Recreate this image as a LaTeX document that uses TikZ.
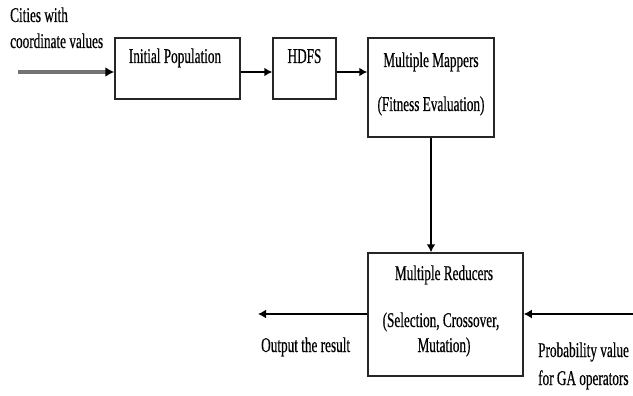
\documentclass[tikz,border=0pt]{standalone}
\usepackage{fontspec}
\setmainfont{Liberation Serif}[FakeStretch=0.63,FakeBold=0.4]
\usetikzlibrary{arrows.meta}
\begin{document}
\begin{tikzpicture}[x=1pt,y=-1pt,
  box/.style={draw=black!85,line width=1.5pt,inner sep=0pt},
  txt/.style={inner sep=0pt,font=\fontsize{21}{26}\selectfont},
  arr/.style={line width=1.6pt,-{Latex[length=8pt,width=9pt]}},
  grayarr/.style={draw=black!55,line width=3.4pt,-{Latex[length=9pt,width=10pt,color=black]}}]
\useasboundingbox[fill=white] (0,0) rectangle (633,396);
% boxes
\node[box,minimum width=125pt,minimum height=61pt] (ip) at (177.5,68.5) {};
\node[box,minimum width=63pt,minimum height=61pt] (hdfs) at (304.5,68.5) {};
\node[box,minimum width=126pt,minimum height=99pt] (map) at (431,87.5) {};
\node[box,minimum width=155pt,minimum height=123pt] (red) at (445.5,314.5) {};
% texts
\node[txt,anchor=base west] (t1) at (10,22) {Cities with};
\node[txt,anchor=base west] (t2) at (10,48) {coordinate values};
\node[txt,anchor=base] (tip) at (175,63) {Initial Population};
\node[txt,anchor=base] (thd) at (304.5,63) {HDFS};
\node[txt,anchor=base] (tm1) at (431,67) {Multiple Mappers};
\node[txt,anchor=base] (tm2) at (431,111) {(Fitness Evaluation)};
\node[txt,anchor=base] (tr1) at (444,280) {Multiple Reducers};
\node[txt,anchor=base] (tr2) at (441,327) {(Selection, Crossover,};
\node[txt,anchor=base] (tr3) at (444,352) {Mutation)};
\node[txt,anchor=base west] (tout) at (261,352) {Output the result};
\node[txt,anchor=base west] (tp1) at (538,357) {Probability value};
\node[txt,anchor=base west] (tp2) at (538,385) {for GA operators};
% connectors
\coordinate (in) at (18,72);
\coordinate (out) at (258,314);
\coordinate (pin) at (633,314);
\draw[grayarr] (in) -- (in -| ip.west);
\draw[arr] ([yshift=-3.5pt]ip.east) -- ([yshift=-3.5pt]hdfs.west);
\draw[arr] ([yshift=-3.5pt]hdfs.east) -- ([yshift=-3.5pt]hdfs.east -| map.west);
\draw[arr] (map.south) -- (map.south |- red.north);
\draw[arr] (red.west |- out) -- (out);
\draw[arr] (pin) -- (pin -| red.east);
\end{tikzpicture}
\end{document}
